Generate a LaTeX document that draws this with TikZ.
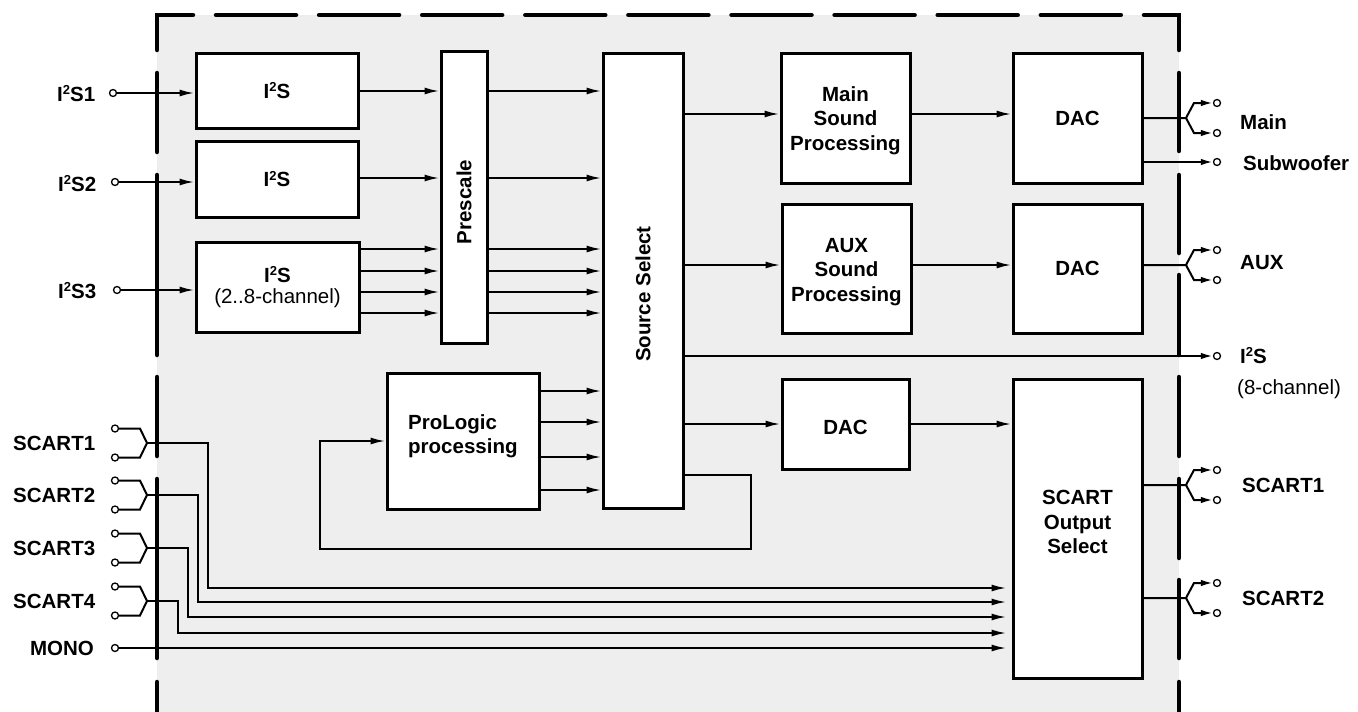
\documentclass[tikz,border=0pt]{standalone}
\usepackage{fontspec}
\setmainfont{Liberation Sans}
\usetikzlibrary{arrows.meta}
\definecolor{bg}{RGB}{238,238,238}
\newcommand{\suptwo}{\raisebox{0.62ex}{\fontsize{13}{13}\selectfont 2}}
\begin{document}
\begin{tikzpicture}[x=1pt,y=-1pt,
  every node/.style={font=\fontsize{20.5}{23.5}\selectfont\bfseries},
  blk/.style={draw,line width=3pt,fill=white,inner sep=0pt},
  conn/.style={line width=2pt},
  arr/.style={conn,-{Latex[length=15pt,width=7pt]}},
  oarr/.style={conn,-{Latex[length=12pt,width=6.5pt]}},
  port/.style={circle,draw,fill=white,inner sep=0pt,minimum size=7pt,line width=1.3pt},
  brd/.style={line width=4.5pt,line cap=round},
  lbl/.style={inner sep=0pt,text height=14.7pt,text depth=0pt},
  mtxt/.style={align=center,inner sep=0pt,font=\fontsize{20.5}{24.5}\selectfont\bfseries},
]
\useasboundingbox (0,0) rectangle (1358,712);
\fill[bg] (157,15) rectangle (1179,712);
% border
\draw[brd,line join=miter] (157,50) -- (157,15) -- (193,15);
\draw[brd,line join=miter] (1144,15) -- (1179,15) -- (1179,50);
\foreach \i in {0,...,8} \draw[brd] ({216+103.1*\i},15) -- ({296+103.1*\i},15);
\foreach \a/\b in {73/152,175/355,377/456,479/658,682/715} \draw[brd] (157,\a) -- (157,\b);
\foreach \a/\b in {73/151,175/253,275/355,377/456,479/558,580/658,682/715} \draw[brd] (1179,\a) -- (1179,\b);

% blocks
\node[blk,minimum width=162pt,minimum height=75pt] (i2sA) at (277,90.5) {I\suptwo S};
\node[blk,minimum width=162pt,minimum height=76pt] (i2sB) at (277,179) {I\suptwo S};
\node[blk,minimum width=163pt,minimum height=90pt,align=center] (i2sC) at (277.5,287) {I\suptwo S\\[-2pt]\mdseries(2..8-channel)};
\node[blk,minimum width=46pt,minimum height=292pt] (pre) at (464,197) {};
\node[rotate=90] at (464,202) {Prescale};
\node[blk,minimum width=80pt,minimum height=455pt] (src) at (643,280.5) {};
\node[rotate=90] at (643,294) {Source Select};
\node[blk,minimum width=152pt,minimum height=136pt] (plg) at (463,441) {};
\node[anchor=west,align=left,inner sep=0pt] at (408,436) {ProLogic\\processing};
\node[blk,minimum width=129pt,minimum height=130pt] (msp) at (845.5,118) {};
\node[mtxt] at (845.5,120.5) {Main\\Sound\\Processing};
\node[blk,minimum width=129pt,minimum height=129pt] (asp) at (846.5,268.5) {};
\node[mtxt] at (846.5,272) {AUX\\Sound\\Processing};
\node[blk,minimum width=129pt,minimum height=130pt] (dacA) at (1077.5,118) {DAC};
\node[blk,minimum width=129pt,minimum height=129pt] (dacB) at (1077.5,268.5) {DAC};
\node[blk,minimum width=127pt,minimum height=90pt] (dacC) at (845.5,424) {};
\node[lbl] at (845.5,427) {DAC};
\node[blk,minimum width=129pt,minimum height=299pt] (sos) at (1077.5,528.5) {};
\node[mtxt] at (1077.5,522) {SCART\\Output\\Select};

% inputs I2S
\node[port] (pA) at (113,93) {};
\node[port] (pB) at (115,182) {};
\node[port] (pC) at (117,290) {};
\draw[arr] (pA) -- (pA -| i2sA.west);
\draw[arr] (pB) -- (pB -| i2sB.west);
\draw[arr] (pC) -- (pC -| i2sC.west);
\node[lbl,anchor=west] at (57,94) {I\suptwo S1};
\node[lbl,anchor=west] at (58,184) {I\suptwo S2};
\node[lbl,anchor=west] at (58,291) {I\suptwo S3};

% I2S to prescale to source
\draw[arr] (i2sA.east |- 0,91) -- (pre.west |- 0,91);
\draw[arr] (pre.east |- 0,91) -- (src.west |- 0,91);
\draw[arr] (i2sB.east |- 0,178) -- (pre.west |- 0,178);
\draw[arr] (pre.east |- 0,178) -- (src.west |- 0,178);
\foreach \yy in {249,271,292,313} {
  \draw[arr] (i2sC.east |- 0,\yy) -- (pre.west |- 0,\yy);
  \draw[arr] (pre.east |- 0,\yy) -- (src.west |- 0,\yy);
}
\foreach \yy in {391,422,457,490} \draw[arr] (plg.east |- 0,\yy) -- (src.west |- 0,\yy);

% source select outputs
\draw[arr] (src.east |- 0,114) -- (msp.west |- 0,114);
\draw[arr] (msp.east |- 0,114) -- (dacA.west |- 0,114);
\draw[arr] (src.east |- 0,265) -- (asp.west |- 0,265);
\draw[arr] (asp.east |- 0,265) -- (dacB.west |- 0,265);
\draw[arr] (src.east |- 0,424) -- (dacC.west |- 0,424);
\draw[arr] (dacC.east |- 0,424) -- (sos.west |- 0,424);
\draw[arr] (src.east |- 0,475) -- (751,475) -- (751,549) -- (320,549) -- (320,441) -- (plg.west |- 0,441);

% outputs
\node[port] (mA) at (1217,103) {};
\node[port] (mB) at (1217,133) {};
\draw[oarr] (dacA.east |- 0,118) -- (1186,118) -- (1194,103) -- (mA);
\draw[oarr] (1186,118) -- (1194,133) -- (mB);
\node[port] (sw) at (1217,162) {};
\draw[oarr] (dacA.east |- 0,162) -- (sw);
\node[port] (aA) at (1217,250) {};
\node[port] (aB) at (1217,280) {};
\draw[oarr] (dacB.east |- 0,265) -- (1186,265) -- (1194,250) -- (aA);
\draw[oarr] (1186,265) -- (1194,280) -- (aB);
\node[port] (io) at (1217,356) {};
\draw[oarr] (src.east |- 0,356) -- (io);
\node[port] (s1A) at (1217,470) {};
\node[port] (s1B) at (1217,500) {};
\draw[oarr] (sos.east |- 0,485) -- (1186,485) -- (1194,470) -- (s1A);
\draw[oarr] (1186,485) -- (1194,500) -- (s1B);
\node[port] (s2A) at (1217,583) {};
\node[port] (s2B) at (1217,613) {};
\draw[oarr] (sos.east |- 0,598) -- (1186,598) -- (1194,583) -- (s2A);
\draw[oarr] (1186,598) -- (1194,613) -- (s2B);

\node[lbl,anchor=west] at (1240,122) {Main};
\node[lbl,anchor=west] at (1243,163) {Subwoofer};
\node[lbl,anchor=west] at (1240,262) {AUX};
\node[lbl,anchor=west] at (1240,356) {I\suptwo S};
\node[lbl,anchor=west,font=\fontsize{20.5}{23.5}\selectfont] at (1237,387) {(8-channel)};
\node[lbl,anchor=west] at (1242,485) {SCART1};
\node[lbl,anchor=west] at (1242,598) {SCART2};

% SCART inputs
\foreach \n/\yy/\xx/\ty in {1/443/208/588, 2/495/198/602, 3/548/188/617, 4/601/178/633} {
  \node[port] (sa\n) at (115,{\yy-14.5}) {};
  \node[port] (sb\n) at (115,{\yy+14.5}) {};
  \draw[conn] (sa\n) -- (140,{\yy-14.5}) -- (147,\yy) -- (140,{\yy+14.5}) -- (sb\n);
  \draw[arr,shorten >=5pt] (147,\yy) -- (\xx,\yy) -- (\xx,\ty) -- (sos.west |- 0,\ty);
  \node[lbl,anchor=west] at (13,\yy) {SCART\n};
}
\node[port] (mono) at (115,648) {};
\draw[arr,shorten >=5pt] (mono) -- (sos.west |- 0,648);
\node[lbl,anchor=east] at (94,648) {MONO};
\end{tikzpicture}
\end{document}
